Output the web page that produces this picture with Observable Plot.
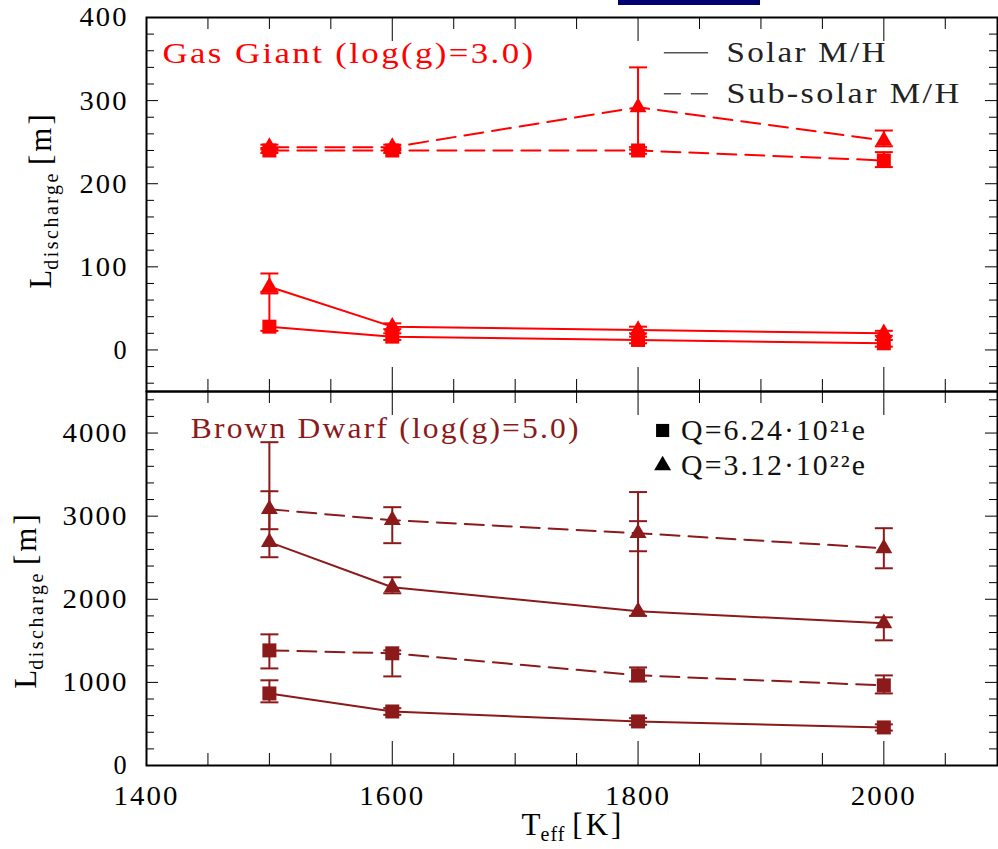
<!DOCTYPE html>
<html><head><meta charset="utf-8">
<script src="https://cdn.jsdelivr.net/npm/d3@7"></script>
<script src="https://cdn.jsdelivr.net/npm/@observablehq/plot@0.6"></script>
<style>
body{margin:0;background:#fff;}
#wrap{position:relative;width:998px;height:849px;overflow:hidden;background:#fff;}
#wrap svg{display:block;font-family:'Liberation Serif','DejaVu Serif',serif !important;}
#wrap svg text{font-family:'Liberation Serif','DejaVu Serif',serif !important;}
#bar{position:absolute;left:618px;top:0;width:142px;height:5px;background:#00006e;z-index:2;}
</style></head><body><div id="wrap"><div id="bar"></div></div>
<script>
// ---------- data ----------
const temps = [1500, 1600, 1800, 2000];

// Gas giant, log(g)=3.0
const ggSolarSq      = [28, 16, 12, 8];
const ggSolarSqLo    = [23, 12, 8, 4];
const ggSolarSqHi    = [68, 20, 16, 12];
const ggSolarTri     = [76, 28, 24, 20];
const ggSolarTriLo   = [70, 25, 20, 17];
const ggSolarTriHi   = [92, 32, 28, 23];
const ggSubSq        = [240, 240, 240, 228];
const ggSubSqLo      = [237, 237, 236, 220];
const ggSubSqHi      = [243, 243, 244, 238];
const ggSubTri       = [244, 244, 292, 252];
const ggSubTriLo     = [241, 241, 241, 245];
const ggSubTriHi     = [247, 247, 340, 264];

// Brown dwarf, log(g)=5.0
const bdSolarSq      = [867, 650, 530, 458];
const bdSolarSqLo    = [760, 610, 490, 420];
const bdSolarSqHi    = [1025, 690, 570, 495];
const bdSolarTri     = [2687, 2145, 1855, 1711];
const bdSolarTriLo   = [2506, 2072, 1800, 1506];
const bdSolarTriHi   = [3890, 2265, 3290, 1783];
const bdSubSq        = [1385, 1350, 1085, 964];
const bdSubSqLo      = [1168, 1072, 1012, 867];
const bdSubSqHi      = [1578, 1385, 1180, 1084];
const bdSubTri       = [3084, 2952, 2795, 2614];
const bdSubTriLo     = [2843, 2675, 2578, 2373];
const bdSubTriHi     = [3300, 3108, 2940, 2855];

const xTickLabels = [1400, 1600, 1800, 2000];
const yTickLabelsTop = [0, 100, 200, 300, 400];
const yTickLabelsBottom = [0, 1000, 2000, 3000, 4000];
const metalLabels = ["Solar M/H", "Sub-solar M/H"];
const chargeLabels = ["Q=6.24·10²¹e", "Q=3.12·10²²e"];
const panelTitles = ["Gas Giant (log(g)=3.0)", "Brown Dwarf (log(g)=5.0)"];

// ---------- helpers ----------
const FONT = "'Liberation Serif', 'DejaVu Serif', serif";
const W = 998, ML = 146, MR = 1;
const plotW = W - ML - MR;
const panelH = 374;
const xDomain = [1400, 2092.5];
const fmt = d => String(d);

function rows(metal, q, v, lo, hi) {
  return temps.map((t, i) => ({t, v: v[i], lo: lo[i], hi: hi[i], metal, q, key: metal + q}));
}
const capSymbol = {draw(ctx, size) { const w = Math.sqrt(size / Math.PI); ctx.moveTo(-w, 0); ctx.lineTo(w, 0); }};

function range(a, b, s) { const r = []; for (let v = a; v <= b + 1e-9; v += s) r.push(+v.toFixed(6)); return r; }

function frameTicks(yMajor, yMinor) {
  const xMajor = range(1400, 2000, 200);
  const xMinor = range(1450, 2050, 50).filter(v => !xMajor.includes(v));
  const k = "#000";
  return [
    Plot.tickY(yMajor, {y: d => d, stroke: k, strokeWidth: 1, insetRight: plotW - 12}),
    Plot.tickY(yMinor, {y: d => d, stroke: k, strokeWidth: 1, insetRight: plotW - 8}),
    Plot.tickY(yMajor, {y: d => d, stroke: k, strokeWidth: 1, insetLeft: plotW - 12}),
    Plot.tickY(yMinor, {y: d => d, stroke: k, strokeWidth: 1, insetLeft: plotW - 8}),
    Plot.tickX(xMajor, {x: d => d, stroke: k, strokeWidth: 1, insetBottom: panelH - 24}),
    Plot.tickX(xMinor, {x: d => d, stroke: k, strokeWidth: 1, insetBottom: panelH - 12}),
    Plot.tickX(xMajor, {x: d => d, stroke: k, strokeWidth: 1, insetTop: panelH - 24}),
    Plot.tickX(xMinor, {x: d => d, stroke: k, strokeWidth: 1, insetTop: panelH - 12})
  ];
}

function dataMarks(data, color) {
  const solar = data.filter(d => d.metal === "solar");
  const sub = data.filter(d => d.metal === "sub");
  return [
    Plot.ruleX(data, {x: "t", y1: "lo", y2: "hi", stroke: color, strokeWidth: 2}),
    Plot.dot(data, {x: "t", y: "lo", symbol: capSymbol, r: 9, stroke: color, strokeWidth: 2, fill: "none"}),
    Plot.dot(data, {x: "t", y: "hi", symbol: capSymbol, r: 9, stroke: color, strokeWidth: 2, fill: "none"}),
    Plot.line(solar, {x: "t", y: "v", z: "key", stroke: color, strokeWidth: 2}),
    Plot.line(sub, {x: "t", y: "v", z: "key", stroke: color, strokeWidth: 2, strokeDasharray: "19,9"}),
    Plot.dot(data.filter(d => d.q === "sq"), {x: "t", y: "v", symbol: "square", r: 7.9, fill: color, stroke: "none"}),
    Plot.dot(data.filter(d => d.q === "tri"), {x: "t", y: "v", symbol: "triangle", r: 6.3, fill: color, stroke: "none"})
  ];
}

// ---------- top panel ----------
const RED = "#ff0000";
const topData = [
  ...rows("solar", "sq", ggSolarSq, ggSolarSqLo, ggSolarSqHi),
  ...rows("solar", "tri", ggSolarTri, ggSolarTriLo, ggSolarTriHi),
  ...rows("sub", "sq", ggSubSq, ggSubSqLo, ggSubSqHi),
  ...rows("sub", "tri", ggSubTri, ggSubTriLo, ggSubTriHi)
];
const legendLineRows = metalLabels.map((label, i) => ({label, i}));
const legendLineY = [357.6, 308.4];

const topPlot = Plot.plot({
  width: W, height: 391, marginTop: 17, marginBottom: 0, marginLeft: ML, marginRight: MR,
  style: {fontFamily: FONT, fontSize: "26px", color: "#000", background: "transparent", overflow: "visible"},
  x: {domain: xDomain, axis: null},
  y: {domain: [-50, 400], axis: null},
  marks: [
    ...frameTicks(range(0, 400, 100), range(-40, 380, 20).filter(v => v % 100 !== 0)),
    Plot.axisY({ticks: yTickLabelsTop, tickFormat: fmt, tickSize: 0, tickPadding: 18, label: null, fontSize: 28}),
    ...dataMarks(topData, RED),
    Plot.text([panelTitles[0]], {x: 1413, y: 357, text: d => d, textAnchor: "start", fill: RED, fontSize: 29}),
    Plot.link(legendLineRows.filter(d => d.i === 0), {x1: 1821, x2: 1857, y1: d => legendLineY[d.i], y2: d => legendLineY[d.i],
      stroke: "#555", strokeWidth: 1.5}),
    Plot.link(legendLineRows.filter(d => d.i === 1), {x1: 1821, x2: 1857, y1: d => legendLineY[d.i], y2: d => legendLineY[d.i],
      stroke: "#555", strokeWidth: 1.5, strokeDasharray: "17,10"}),
    Plot.text(legendLineRows, {x: 1872, y: d => legendLineY[d.i], text: "label", textAnchor: "start", fill: "#222", fontSize: 29}),
    Plot.frame({stroke: "#000", strokeWidth: 2})
  ]
});

// ---------- bottom panel ----------
const DRED = "#8b1a1a";
const botData = [
  ...rows("solar", "sq", bdSolarSq, bdSolarSqLo, bdSolarSqHi),
  ...rows("solar", "tri", bdSolarTri, bdSolarTriLo, bdSolarTriHi),
  ...rows("sub", "sq", bdSubSq, bdSubSqLo, bdSubSqHi),
  ...rows("sub", "tri", bdSubTri, bdSubTriLo, bdSubTriHi)
];
const chargeRows = chargeLabels.map((label, i) => ({label, i}));
const chargeY = [4031, 3610];

const bottomPlot = Plot.plot({
  width: W, height: 458, marginTop: 0, marginBottom: 84, marginLeft: ML, marginRight: MR,
  style: {fontFamily: FONT, fontSize: "26px", color: "#000", background: "transparent", overflow: "visible"},
  x: {domain: xDomain, axis: null},
  y: {domain: [0, 4500], axis: null},
  marks: [
    ...frameTicks(range(0, 4000, 1000), range(200, 4400, 200).filter(v => v % 1000 !== 0)),
    Plot.axisY({ticks: yTickLabelsBottom, tickFormat: fmt, tickSize: 0, tickPadding: 18, label: null, fontSize: 28}),
    Plot.axisX({ticks: xTickLabels, tickFormat: fmt, tickSize: 0, tickPadding: 20, label: null, fontSize: 28}),
    ...dataMarks(botData, DRED),
    Plot.text([panelTitles[1]], {x: 1436, y: 4055, text: d => d, textAnchor: "start", fill: DRED, fontSize: 29}),
    Plot.dot(chargeRows.filter(d => d.i === 0), {x: 1820, y: d => chargeY[d.i], symbol: "square", r: 7.4, fill: "#000"}),
    Plot.dot(chargeRows.filter(d => d.i === 1), {x: 1820, y: d => chargeY[d.i], symbol: "triangle", r: 6.3, fill: "#000"}),
    Plot.text(chargeRows, {x: 1835, y: d => chargeY[d.i], text: "label", textAnchor: "start", fill: "#111", fontSize: 29}),
    Plot.frame({stroke: "#000", strokeWidth: 2})
  ]
});

const wrap = document.getElementById("wrap");
wrap.appendChild(topPlot);
wrap.appendChild(bottomPlot);

// ---------- text styling (width of the original font) ----------
const widths = {
  "Gas Giant (log(g)=3.0)": 373, "Brown Dwarf (log(g)=5.0)": 390,
  "Solar M/H": 161, "Sub-solar M/H": 235,
  "Q=6.24·10²¹e": 186, "Q=3.12·10²²e": 186
};
for (const svg of [topPlot, bottomPlot]) {
  d3.select(svg).selectAll("text").each(function() {
    const s = this.textContent;
    let w = widths[s];
    if (w == null && /^\d+$/.test(s)) w = s.length * 17 - 2;
    if (w != null) {
      d3.select(this).style("font-family", FONT).style("letter-spacing", "2px")
        .attr("textLength", w).attr("lengthAdjust", "spacingAndGlyphs");
    }
  });
}

// axis titles
function yTitle(svg, x, y) {
  const t = d3.select(svg).append("text")
    .attr("transform", `translate(${x},${y}) rotate(-90)`)
    .attr("text-anchor", "middle").attr("font-size", 31).attr("fill", "#000").style("font-family", FONT);
  t.append("tspan").text("L");
  t.append("tspan").attr("font-size", 20).attr("dy", 7).attr("letter-spacing", 2.5).text("discharge");
  t.append("tspan").attr("dy", -7).attr("dx", 6).attr("letter-spacing", 3).text("[m]");
}
yTitle(topPlot, 51, 200);
yTitle(bottomPlot, 36, 600 - 391);
const xt = d3.select(bottomPlot).append("text")
  .attr("x", 573).attr("y", 835 - 391).attr("text-anchor", "middle")
  .attr("font-size", 31).attr("fill", "#000").style("font-family", FONT);
xt.append("tspan").text("T");
xt.append("tspan").attr("font-size", 20).attr("dy", 6).attr("letter-spacing", 1).text("eff");
xt.append("tspan").attr("dy", -6).attr("dx", 7).attr("letter-spacing", 3).text("[K]");
</script></body></html>
